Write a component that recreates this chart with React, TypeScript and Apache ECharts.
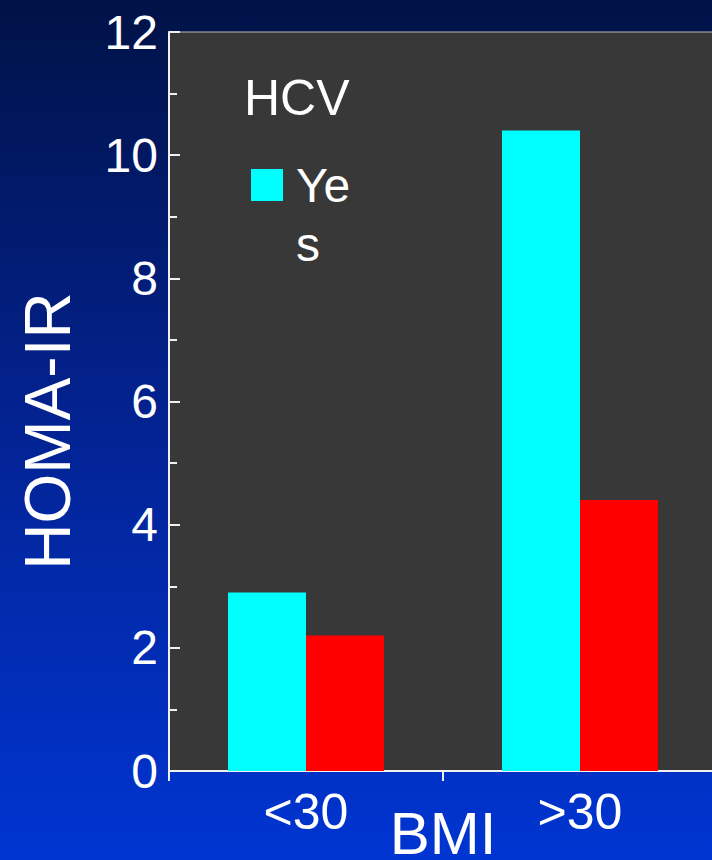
import React, { useEffect, useRef } from "react";
import * as echarts from "echarts";

const categories = ["<30", ">30"];
const hcvYes = [2.9, 10.4];
const hcvNo = [2.2, 4.4];
const yTicks = { min: 0, max: 12, interval: 2 };

const FONT = "'Liberation Sans', Arial, Helvetica, sans-serif";

export default function App() {
  const ref = useRef<HTMLDivElement>(null);
  useEffect(() => {
    document.body.style.margin = "0";
    const chart = echarts.init(ref.current!, null, { renderer: "svg" });
    chart.setOption({
      animation: false,
      backgroundColor: {
        type: "linear",
        x: 0,
        y: 0,
        x2: 0,
        y2: 1,
        colorStops: [
          { offset: 0, color: "#001246" },
          { offset: 0.5, color: "#032393" },
          { offset: 1, color: "#0035d2" },
        ],
      },
      grid: {
        left: 169,
        right: -5,
        top: 32,
        bottom: 89,
        containLabel: false,
        outerBoundsMode: "none",
        show: true,
        backgroundColor: "#383838",
        borderColor: "#b8b8b8",
        borderWidth: 1,
      },
      xAxis: {
        type: "category",
        data: categories,
        name: "BMI",
        nameLocation: "middle",
        nameGap: 32,
        nameMoveOverlap: false,
        nameTextStyle: { color: "#fff", fontSize: 60, fontFamily: FONT },
        axisLine: { show: true, lineStyle: { color: "#f0f0f0", width: 2 } },
        axisTick: { show: true, length: 10, lineStyle: { color: "#f0f0f0", width: 2 } },
        axisLabel: { color: "#fff", fontSize: 50, fontFamily: FONT, margin: 16 },
      },
      yAxis: {
        type: "value",
        min: yTicks.min,
        max: yTicks.max,
        interval: yTicks.interval,
        axisLine: { show: true, lineStyle: { color: "#f0f0f0", width: 2 } },
        axisTick: { show: true, inside: true, length: 11, lineStyle: { color: "#f0f0f0", width: 2 } },
        minorTick: { show: true, splitNumber: 2, length: 8, lineStyle: { color: "#f0f0f0", width: 2 } },
        splitLine: { show: false },
        axisLabel: { color: "#fff", fontSize: 48, fontFamily: FONT, margin: 11 },
      },
      series: [
        {
          name: "Yes",
          type: "bar",
          data: hcvYes,
          barWidth: 78,
          barGap: "0%",
          itemStyle: { color: "#00ffff" },
        },
        {
          name: "No",
          type: "bar",
          data: hcvNo,
          barWidth: 78,
          barGap: "0%",
          itemStyle: { color: "#ff0000" },
        },
      ],
      graphic: [
        {
          type: "text",
          x: 48,
          y: 431,
          rotation: Math.PI / 2,
          style: {
            text: "HOMA-IR",
            fill: "#fff",
            font: `64px ${FONT}`,
            align: "center",
            verticalAlign: "middle",
          },
        },
        {
          type: "text",
          x: 244,
          y: 98,
          style: {
            text: "HCV",
            fill: "#fff",
            font: `50px ${FONT}`,
            align: "left",
            verticalAlign: "middle",
          },
        },
        {
          type: "rect",
          shape: { x: 251, y: 169, width: 32, height: 32 },
          style: { fill: "#00ffff" },
        },
        {
          type: "text",
          x: 296,
          y: 185,
          style: {
            text: "Ye",
            fill: "#fff",
            font: `48px ${FONT}`,
            align: "left",
            verticalAlign: "middle",
          },
        },
        {
          type: "text",
          x: 296,
          y: 244,
          style: {
            text: "s",
            fill: "#fff",
            font: `48px ${FONT}`,
            align: "left",
            verticalAlign: "middle",
          },
        },
      ],
    });
    return () => chart.dispose();
  }, []);
  return (
    <div
      ref={ref}
      style={{ width: 712, height: 860, position: "absolute", left: 0, top: 0 }}
    />
  );
}
